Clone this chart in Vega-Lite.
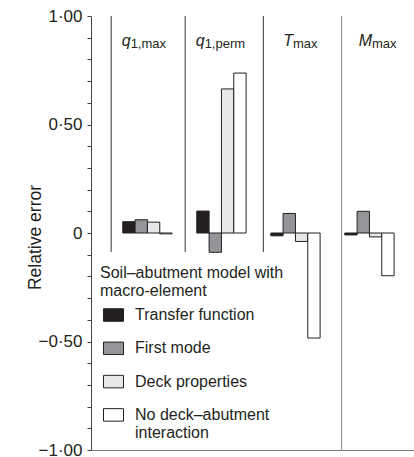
{
  "$schema": "https://vega.github.io/schema/vega-lite/v6.json",
  "autosize": {"type": "none"},
  "padding": {"left": 91, "top": 16, "right": 0, "bottom": 7},
  "width": 323,
  "height": 434,
  "config": {
    "view": {"stroke": null},
    "font": "Liberation Sans",
    "text": {"color": "#231f20"},
    "bar": {"stroke": "#231f20", "strokeWidth": 1},
    "legend": {
      "orient": "none", "legendX": 9, "legendY": 249, "padding": 0,
      "titleFontSize": 16, "titleFontWeight": "normal", "titleColor": "#231f20", "titleLineHeight": 18, "titlePadding": 5.5, "titleLimit": 300,
      "symbolType": "M-1,-0.625H1V0.625H-1Z", "symbolSize": 400, "symbolStrokeColor": "#231f20", "symbolStrokeWidth": 1, "symbolOffset": 3,
      "labelFontSize": 16, "labelColor": "#231f20", "labelOffset": 11, "labelLimit": 300, "labelBaseline": "middle",
      "rowPadding": 14.3
    }
  },
  "datasets": {
    "bars": [
      {"quantity": "q1,max", "model": "Transfer function", "error": 0.052},
      {"quantity": "q1,max", "model": "First mode", "error": 0.061},
      {"quantity": "q1,max", "model": "Deck properties", "error": 0.05},
      {"quantity": "q1,max", "model": "No deck–abutment interaction", "error": -0.004},
      {"quantity": "q1,perm", "model": "Transfer function", "error": 0.101},
      {"quantity": "q1,perm", "model": "First mode", "error": -0.089},
      {"quantity": "q1,perm", "model": "Deck properties", "error": 0.664},
      {"quantity": "q1,perm", "model": "No deck–abutment interaction", "error": 0.737},
      {"quantity": "Tmax", "model": "Transfer function", "error": -0.013},
      {"quantity": "Tmax", "model": "First mode", "error": 0.09},
      {"quantity": "Tmax", "model": "Deck properties", "error": -0.039},
      {"quantity": "Tmax", "model": "No deck–abutment interaction", "error": -0.484},
      {"quantity": "Mmax", "model": "Transfer function", "error": -0.009},
      {"quantity": "Mmax", "model": "First mode", "error": 0.1},
      {"quantity": "Mmax", "model": "Deck properties", "error": -0.018},
      {"quantity": "Mmax", "model": "No deck–abutment interaction", "error": -0.197}
    ],
    "panels": [
      {"quantity": "q1,max", "symbol": "q", "sub": "1,max"},
      {"quantity": "q1,perm", "symbol": "q", "sub": "1,perm"},
      {"quantity": "Tmax", "symbol": "T", "sub": "max"},
      {"quantity": "Mmax", "symbol": "M", "sub": "max"}
    ]
  },
  "resolve": {"axis": {"y": "independent"}},
  "layer": [
    {
      "description": "zero line",
      "mark": {"type": "rule", "color": "#444444", "strokeWidth": 1},
      "encoding": {
        "y": {
          "datum": 0, "type": "quantitative",
          "scale": {"domain": [-1, 1], "nice": false, "zero": false},
          "axis": {"orient": "left", "labels": false, "ticks": false, "domain": false, "grid": false, "title": null}
        }
      }
    },
    {
      "description": "panel separators",
      "data": {"name": "panels"},
      "transform": [{"filter": "datum.quantity == 'q1,max' || datum.quantity == 'q1,perm'"}],
      "mark": {"type": "rule", "color": "#333333", "strokeWidth": 1},
      "encoding": {
        "x": {"field": "quantity", "type": "nominal", "bandPosition": 0.01},
        "y": {"datum": 1, "type": "quantitative", "axis": null},
        "y2": {"datum": -0.087}
      }
    },
    {
      "data": {"name": "panels"},
      "transform": [{"filter": "datum.quantity == 'Tmax'"}],
      "mark": {"type": "rule", "color": "#333333", "strokeWidth": 1},
      "encoding": {
        "x": {"field": "quantity", "type": "nominal", "bandPosition": 0.066},
        "y": {"datum": 1, "type": "quantitative", "axis": null},
        "y2": {"datum": -0.087}
      }
    },
    {
      "data": {"name": "panels"},
      "transform": [{"filter": "datum.quantity == 'Mmax'"}],
      "mark": {"type": "rule", "color": "#8a8a8a", "strokeWidth": 1},
      "encoding": {
        "x": {"field": "quantity", "type": "nominal", "bandPosition": 0.125},
        "y": {"datum": 1, "type": "quantitative", "axis": null},
        "y2": {"datum": -1}
      }
    },
    {
      "data": {"name": "bars"},
      "mark": {"type": "bar"},
      "encoding": {
        "x": {
          "field": "quantity", "type": "nominal",
          "scale": {"domain": ["q1,max", "q1,perm", "Tmax", "Mmax"], "paddingInner": 0, "paddingOuter": 0.1824, "align": 0.72},
          "axis": {"labels": false, "ticks": false, "title": null, "domainColor": "#7a7a7a", "domainWidth": 1}
        },
        "xOffset": {
          "field": "model", "type": "nominal",
          "scale": {"domain": ["Transfer function", "First mode", "Deck properties", "No deck–abutment interaction"], "paddingInner": 0, "paddingOuter": 1.3}
        },
        "y": {
          "field": "error", "type": "quantitative",
          "axis": {
            "orient": "left",
            "values": [-1, -0.9, -0.8, -0.7, -0.6, -0.5, -0.4, -0.3, -0.2, -0.1, 0, 0.1, 0.2, 0.3, 0.4, 0.5, 0.6, 0.7, 0.8, 0.9, 1],
            "labelExpr": "datum.value == 0 ? '0' : (abs(datum.value) == 1 || abs(datum.value) == 0.5) ? replace(replace(format(datum.value, '.2f'), '.', '·'), '-', '–') : ''",
            "ticks": true, "tickSize": 4, "tickColor": "#444444", "tickWidth": 1,
            "labelPadding": 5, "labelFontSize": 17, "labelColor": "#231f20",
            "domainColor": "#444444", "domainWidth": 1, "grid": false,
            "title": "Relative error", "titleFontSize": 17.5, "titleFontWeight": "normal", "titleColor": "#231f20",
            "titleX": -51, "titleY": 221, "titleBaseline": "alphabetic", "titleAngle": -90
          }
        },
        "color": {
          "field": "model", "type": "nominal", "title": ["Soil–abutment model with", "macro-element"],
          "scale": {"domain": ["Transfer function", "First mode", "Deck properties", "No deck–abutment interaction"], "range": ["#231f20", "#939598", "#e6e7e8", "#ffffff"]},
          "legend": {
            "labelExpr": "datum.label == 'No deck–abutment interaction' ? ['No deck–abutment', 'interaction'] : datum.label"
          }
        }
      }
    },
    {
      "data": {"name": "panels"},
      "transform": [{"filter": "datum.quantity == 'q1,max' || datum.quantity == 'q1,perm'"}],
      "mark": {"type": "text", "align": "right", "baseline": "alphabetic", "fontSize": 16, "fontStyle": "italic"},
      "encoding": {
        "x": {"field": "quantity", "type": "nominal", "bandPosition": 0.273},
        "y": {"datum": 0.86, "type": "quantitative", "axis": null},
        "text": {"field": "symbol"}
      }
    },
    {
      "data": {"name": "panels"},
      "transform": [{"filter": "datum.quantity == 'q1,max' || datum.quantity == 'q1,perm'"}],
      "mark": {"type": "text", "align": "left", "baseline": "alphabetic", "fontSize": 13, "dy": 2},
      "encoding": {
        "x": {"field": "quantity", "type": "nominal", "bandPosition": 0.273},
        "y": {"datum": 0.86, "type": "quantitative", "axis": null},
        "text": {"field": "sub"}
      }
    },
    {
      "data": {"name": "panels"},
      "transform": [{"filter": "datum.quantity == 'Tmax'"}],
      "mark": {"type": "text", "align": "right", "baseline": "alphabetic", "fontSize": 16, "fontStyle": "italic"},
      "encoding": {
        "x": {"field": "quantity", "type": "nominal", "bandPosition": 0.466},
        "y": {"datum": 0.86, "type": "quantitative", "axis": null},
        "text": {"field": "symbol"}
      }
    },
    {
      "data": {"name": "panels"},
      "transform": [{"filter": "datum.quantity == 'Tmax'"}],
      "mark": {"type": "text", "align": "left", "baseline": "alphabetic", "fontSize": 13, "dy": 2},
      "encoding": {
        "x": {"field": "quantity", "type": "nominal", "bandPosition": 0.466},
        "y": {"datum": 0.86, "type": "quantitative", "axis": null},
        "text": {"field": "sub"}
      }
    },
    {
      "data": {"name": "panels"},
      "transform": [{"filter": "datum.quantity == 'Mmax'"}],
      "mark": {"type": "text", "align": "right", "baseline": "alphabetic", "fontSize": 16, "fontStyle": "italic"},
      "encoding": {
        "x": {"field": "quantity", "type": "nominal", "bandPosition": 0.534},
        "y": {"datum": 0.86, "type": "quantitative", "axis": null},
        "text": {"field": "symbol"}
      }
    },
    {
      "data": {"name": "panels"},
      "transform": [{"filter": "datum.quantity == 'Mmax'"}],
      "mark": {"type": "text", "align": "left", "baseline": "alphabetic", "fontSize": 13, "dy": 2},
      "encoding": {
        "x": {"field": "quantity", "type": "nominal", "bandPosition": 0.534},
        "y": {"datum": 0.86, "type": "quantitative", "axis": null},
        "text": {"field": "sub"}
      }
    }
  ]
}
